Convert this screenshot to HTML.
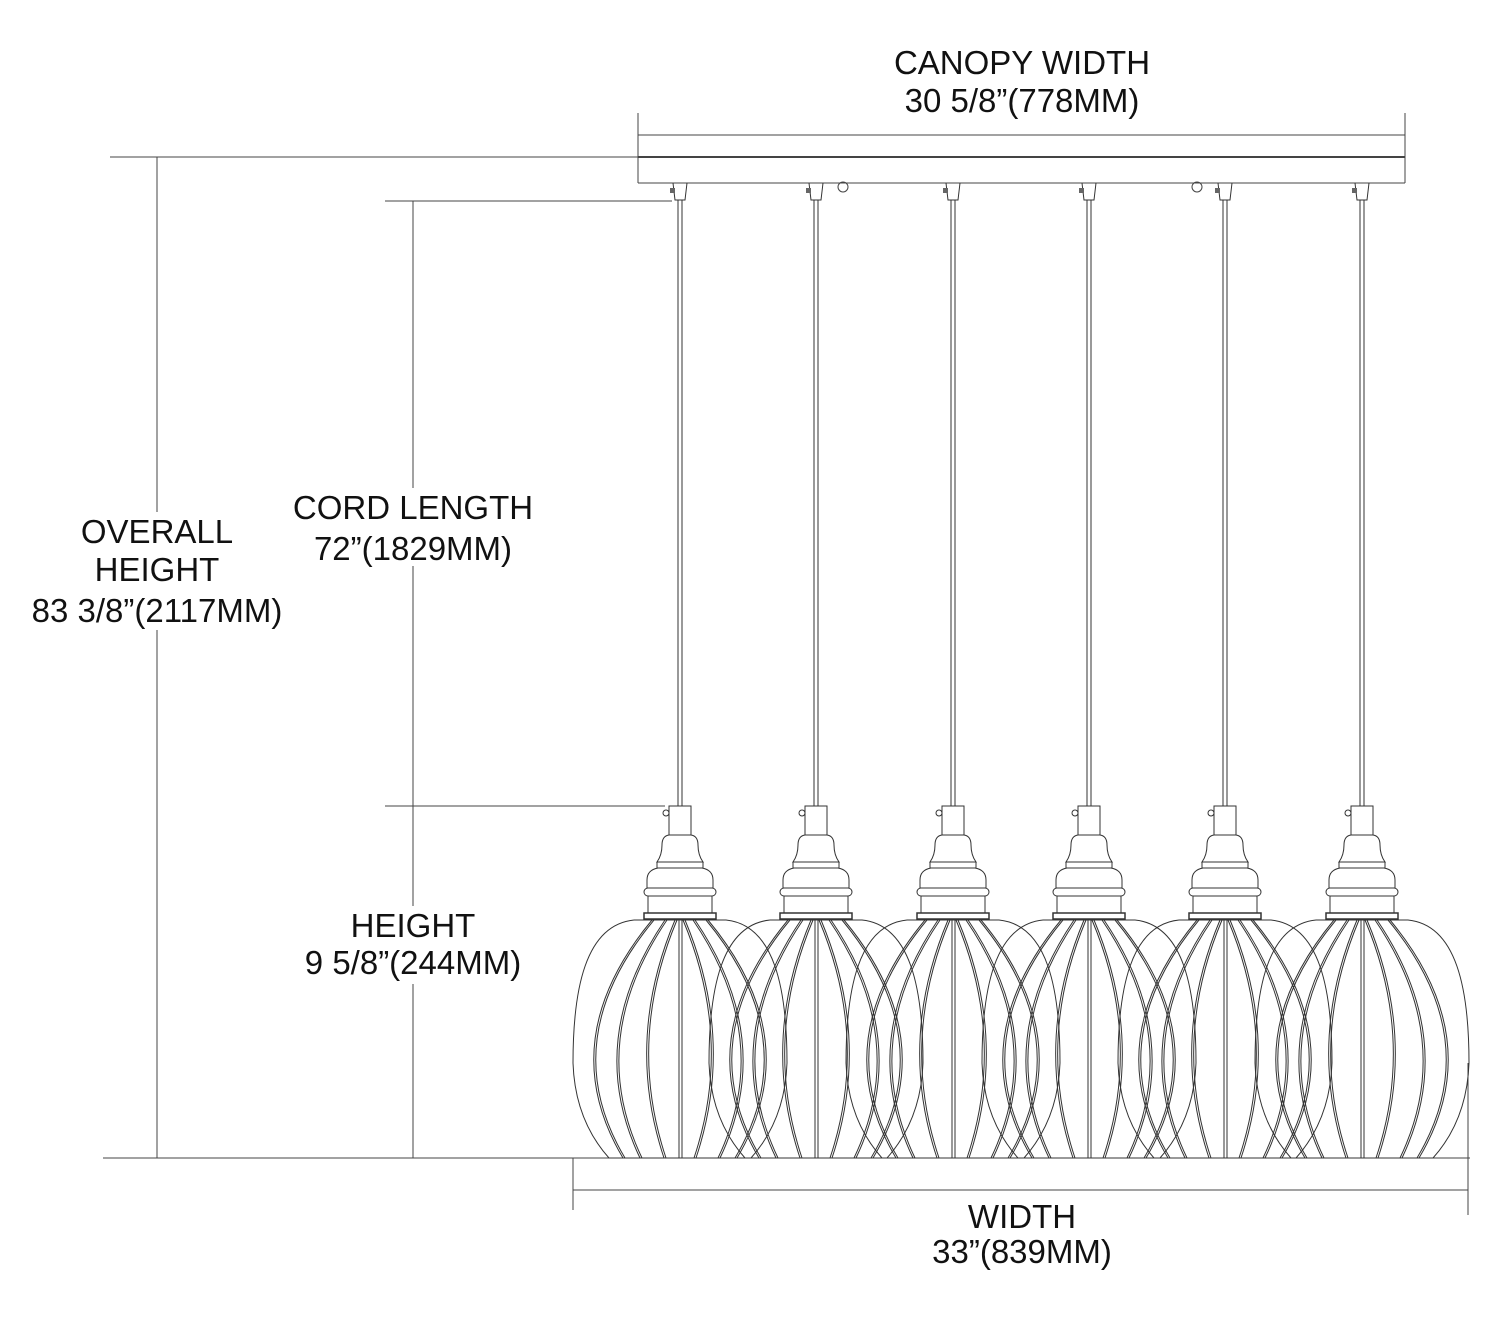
<!DOCTYPE html>
<html><head><meta charset="utf-8"><style>
body{margin:0;background:#fff}
svg{display:block}
text{font-family:"Liberation Sans",sans-serif;font-size:33px;fill:#111;text-anchor:middle}
</style></head><body>
<svg id="s" width="1500" height="1321" viewBox="0 0 1500 1321" xmlns="http://www.w3.org/2000/svg">
<g stroke="#444" stroke-width="1" fill="none">
<line x1="638" y1="113" x2="638" y2="183"/>
<line x1="1405" y1="113" x2="1405" y2="183"/>
<line x1="638" y1="135" x2="1405" y2="135"/>
<line x1="638" y1="157" x2="1405" y2="157" stroke-width="2"/>
<line x1="638" y1="183" x2="1405" y2="183"/>
<circle cx="843" cy="187" r="5"/>
<circle cx="1197" cy="187" r="5"/>
<line x1="110" y1="157" x2="638" y2="157"/>
<line x1="157" y1="157" x2="157" y2="1158"/>
<line x1="385" y1="201" x2="672" y2="201"/>
<line x1="413" y1="201" x2="413" y2="1158"/>
<line x1="385" y1="806" x2="665" y2="806"/>
<line x1="103" y1="1158" x2="1470" y2="1158"/>
<line x1="573" y1="1190" x2="1468" y2="1190"/>
<line x1="573" y1="1158" x2="573" y2="1210"/>
<line x1="1468" y1="1063" x2="1468" y2="1215"/>
</g>
<g fill="#fff">
<rect x="25" y="512" width="265" height="118"/>
<rect x="290" y="488" width="248" height="78"/>
<rect x="300" y="906" width="228" height="78"/>
</g>
<g id="p" stroke="#333" stroke-width="1" fill="none"></g>
<text x="1022" y="74">CANOPY WIDTH</text>
<text x="1022" y="112">30 5/8”(778MM)</text>
<text x="413" y="519">CORD LENGTH</text>
<text x="413" y="560">72”(1829MM)</text>
<text x="157" y="543">OVERALL</text>
<text x="157" y="581">HEIGHT</text>
<text x="157" y="622">83 3/8”(2117MM)</text>
<text x="413" y="937">HEIGHT</text>
<text x="413" y="974">9 5/8”(244MM)</text>
<text x="1022" y="1228">WIDTH</text>
<text x="1022" y="1263">33”(839MM)</text>
</svg>
<script>
var g=document.getElementById('p'),h='';
var cs=[680,816,953,1089,1225,1362];
function Q(c,t,m,b){var cx=2*m-(t+b)/2;return 'M'+(c+t)+',920 Q'+(c+cx)+',1040 '+(c+b)+',1158 ';}
cs.forEach(function(c){
 h+='<path d="M'+(c-7)+',183 L'+(c-5)+',200 L'+(c+5)+',200 L'+(c+7)+',183"/>';
 h+='<rect x="'+(c-10)+'" y="188" width="5" height="5" fill="#666" stroke="none"/>';
 h+='<line x1="'+(c-2)+'" y1="200" x2="'+(c-2)+'" y2="806"/><line x1="'+(c+2)+'" y1="200" x2="'+(c+2)+'" y2="806"/>';
 h+='<rect x="'+(c-11)+'" y="806" width="22" height="29" fill="#fff"/>';
 h+='<circle cx="'+(c-14)+'" cy="813" r="3"/>';
 h+='<path d="M'+(c-11)+',835 Q'+(c-18)+',836 '+(c-18)+',845 Q'+(c-18)+',855 '+(c-23)+',862 L'+(c+23)+',862 Q'+(c+18)+',855 '+(c+18)+',845 Q'+(c+18)+',836 '+(c+11)+',835 Z"/>';
 h+='<rect x="'+(c-23)+'" y="862" width="46" height="6"/>';
 h+='<path d="M'+(c-22)+',868 Q'+(c-33)+',870 '+(c-33)+',880 L'+(c-33)+',888 L'+(c+33)+',888 L'+(c+33)+',880 Q'+(c+33)+',870 '+(c+22)+',868 Z"/>';
 h+='<rect x="'+(c-36)+'" y="888" width="72" height="8" rx="4"/>';
 h+='<rect x="'+(c-32)+'" y="896" width="64" height="17"/>';
 h+='<rect x="'+(c-36)+'" y="913" width="72" height="6" stroke-width="1.5"/>';
 h+='<path d="M'+(c-46)+',920 L'+(c+46)+',920 C'+(c+95)+',925 '+(c+107)+',990 '+(c+107)+',1063 Q'+(c+105)+',1120 '+(c+71)+',1158 L'+(c-71)+',1158 Q'+(c-105)+',1120 '+(c-107)+',1063 C'+(c-107)+',990 '+(c-95)+',925 '+(c-46)+',920"/>';
 var d='';
 [[3,31,14],[13,60,38],[26,83,55]].forEach(function(r){
  [1,-1].forEach(function(s){
   d+=Q(c,s*r[0],s*r[1],s*r[2]);
   d+=Q(c,s*(r[0]+2),s*(r[1]+2),s*(r[2]+2));
  });
 });
 h+='<path d="'+d+'"/>';
 h+='<line x1="'+(c-1)+'" y1="920" x2="'+(c-1)+'" y2="1158"/><line x1="'+(c+2)+'" y1="920" x2="'+(c+2)+'" y2="1158"/>';
});
g.innerHTML=h;
</script>
</body></html>
